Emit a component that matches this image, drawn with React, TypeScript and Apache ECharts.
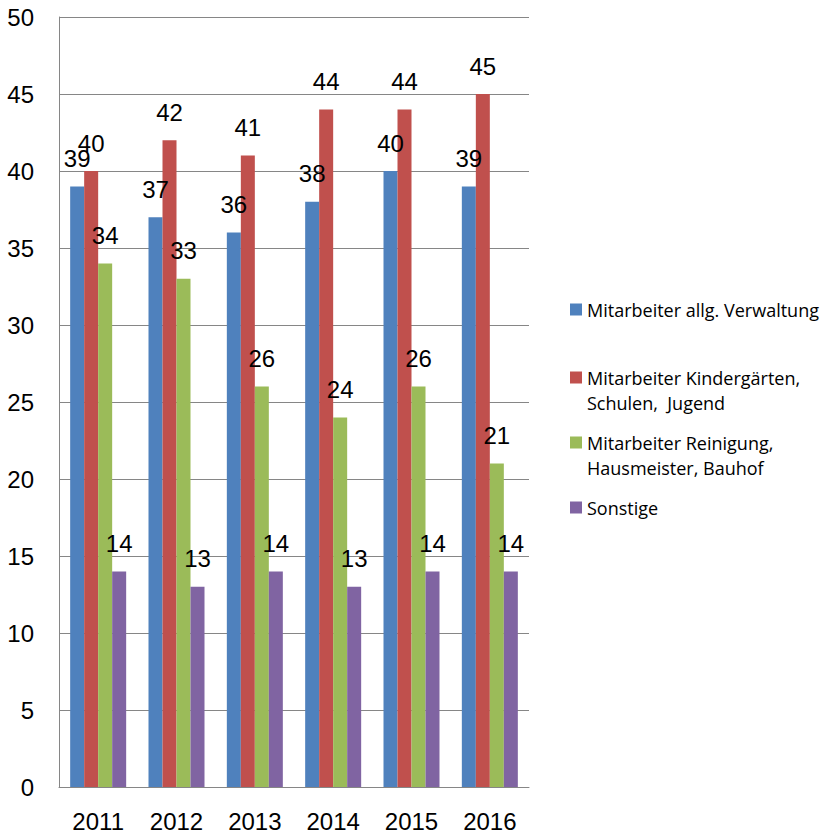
import React, { useEffect, useRef } from "react";
import * as echarts from "echarts";

const categories = ["2011", "2012", "2013", "2014", "2015", "2016"];
const seriesNames = [
  "Mitarbeiter allg. Verwaltung",
  "Mitarbeiter Kindergärten,\nSchulen,  Jugend",
  "Mitarbeiter Reinigung,\nHausmeister, Bauhof",
  "Sonstige",
];
const verwaltung = [39, 37, 36, 38, 40, 39];
const kindergaerten = [40, 42, 41, 44, 44, 45];
const reinigung = [34, 33, 26, 24, 26, 21];
const sonstige = [14, 13, 14, 13, 14, 14];
const colors = ["#4F81BD", "#C0504D", "#9BBB59", "#8064A2"];

const FONT = "Liberation Sans";
const LEGEND_FONT = "Open Sans";

export default function App() {
  const ref = useRef<HTMLDivElement>(null);
  useEffect(() => {
    if (!ref.current) return;
    const chart = echarts.init(ref.current, undefined, { renderer: "svg" });
    const values = [verwaltung, kindergaerten, reinigung, sonstige];
    const legendTops = [297, 340, 405, 495];
    const legends = seriesNames.map((name, i) => ({
      show: true,
      orient: "vertical",
      left: 570,
      top: legendTops[i],
      padding: 0,
      itemWidth: 12,
      itemHeight: 12,
      icon: "rect",
      selectedMode: false,
      data: [name],
      formatter: (n: string) => (n.includes("\n") ? "\n" + n : n),
      textStyle: {
        fontFamily: LEGEND_FONT,
        fontSize: 18,
        lineHeight: 25,
        color: "#000",
      },
    }));
    chart.setOption({
      animation: false,
      color: colors,
      legend: legends,
      grid: { left: 59, right: 298, top: 17, bottom: 49, containLabel: false },
      xAxis: {
        type: "category",
        data: categories,
        axisTick: { show: false },
        axisLine: { lineStyle: { color: "#868686", width: 1 } },
        axisLabel: { color: "#000", fontFamily: FONT, fontSize: 24, margin: 22 },
      },
      yAxis: {
        type: "value",
        min: 0,
        max: 50,
        interval: 5,
        axisTick: { show: false },
        axisLine: { show: true, lineStyle: { color: "#868686", width: 1 } },
        splitLine: { lineStyle: { color: "#868686", width: 1 } },
        axisLabel: { color: "#000", fontFamily: FONT, fontSize: 24, margin: 25 },
      },
      series: values.map((v, i) => ({
        type: "bar",
        name: seriesNames[i],
        data: v,
        barWidth: 14,
        barGap: "0%",
        label: {
          show: true,
          position: "top",
          distance: 16,
          color: "#000",
          fontFamily: FONT,
          fontSize: 24,
          lineHeight: 24,
        },
      })),
    });
    return () => chart.dispose();
  }, []);
  return (
    <div
      ref={ref}
      style={{ position: "absolute", left: 0, top: 0, width: 827, height: 836 }}
    />
  );
}
